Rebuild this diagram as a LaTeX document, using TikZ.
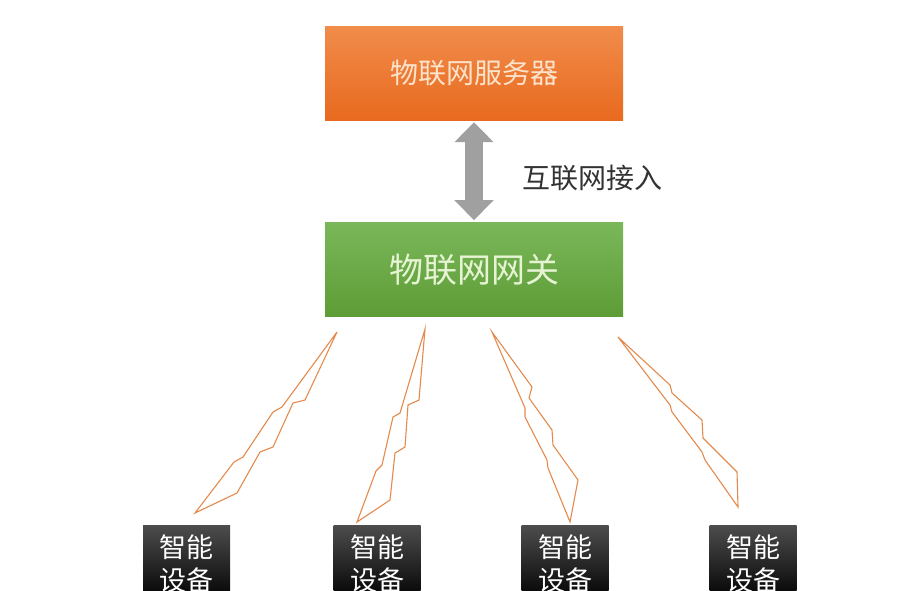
\documentclass[tikz,border=0pt]{standalone}
\usepackage{fontspec}
\newfontfamily\cjk{Noto Sans CJK SC}
\usetikzlibrary{arrows.meta,calc,positioning}
\definecolor{srvtop}{HTML}{F18C4B}
\definecolor{srvbot}{HTML}{E86A1F}
\definecolor{srvtxt}{HTML}{FCE3CC}
\definecolor{gwtop}{HTML}{7AB75A}
\definecolor{gwbot}{HTML}{5E9C36}
\definecolor{gwtxt}{HTML}{E6F4D4}
\definecolor{linkc}{HTML}{A0A0A0}
\definecolor{boltc}{HTML}{E38A4C}
\definecolor{labc}{HTML}{333333}

\begin{document}
\begin{tikzpicture}[x=1pt,y=-1pt,node distance=102pt,
box/.style={minimum width=298pt,minimum height=94pt,inner sep=0pt},
dev/.style={minimum width=87pt,minimum height=77pt,anchor=north,align=center,inner sep=0pt,
  text=white,top color=black!70,bottom color=black,font=\cjk\fontsize{27}{33}\selectfont},
link/.style={{Triangle[length=20pt,width=38pt]}-{Triangle[length=20pt,width=38pt]},
  line width=18pt,draw=linkc,shorten <=2pt,shorten >=2pt},
bolt/.style={draw=boltc,line width=1.1pt}]
\clip (0,0) rectangle (905,590);
\node[box,top color=srvtop,bottom color=srvbot,text=srvtxt,font=\cjk\fontsize{28}{34}\selectfont] (server) at (474,73) {物联网服务器};
\node[box,below=of server,top color=gwtop,bottom color=gwbot,text=gwtxt,font=\cjk\fontsize{34}{40}\selectfont] (gateway) {物联网网关};
\draw[link] (server)--(gateway);
\coordinate (mid) at ($(server.south)!.5!(gateway.north)$);
\node[right=45pt of mid,yshift=-7pt,text=labc,font=\cjk\fontsize{28}{34}\selectfont] (access) {互联网接入};
\node[dev] (dev1) at (186.5,525) {智能\\设备};
\node[dev] (dev2) at (377,525) {智能\\设备};
\node[dev] (dev3) at (565,525) {智能\\设备};
\node[dev] (dev4) at (753,525) {智能\\设备};
\draw[bolt] (337,332)--(282,407)--(273,412)--(243,457)--(234,462)--(195,513)--(237,493)--(260,452)--(273,447)--(293,403)--(305,400)--cycle;
\draw[bolt] (425,329)--(400,413)--(393,417)--(382,465)--(376,471)--(357,522)--(390,500)--(395,453)--(405,447)--(408,405)--(419,400)--cycle;
\draw[bolt] (492,332)--(532,387)--(529,398)--(552,430)--(553,445)--(578,480)--(570,522)--(548,468)--(547,460)--(525,417)--(525,408)--cycle;
\draw[bolt] (618,337)--(670,385)--(672,393)--(702,420)--(703,438)--(737,472)--(738,507)--(705,460)--(702,452)--(672,412)--(670,405)--cycle;
\end{tikzpicture}
\end{document}
